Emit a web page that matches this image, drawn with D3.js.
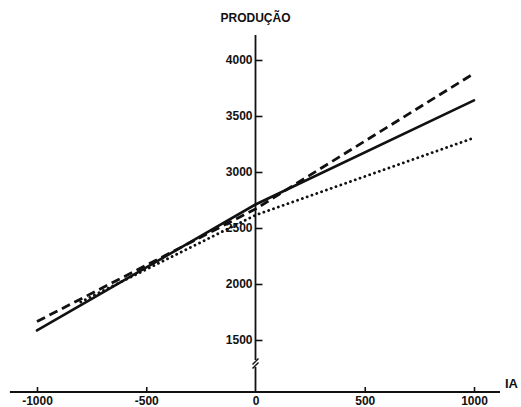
<!DOCTYPE html>
<html>
<head>
<meta charset="utf-8">
<script src="https://cdn.jsdelivr.net/npm/d3@7"></script>
<style>
  body { margin: 0; background: #fff; }
  svg { display: block; font-family: "Liberation Sans", Arial, sans-serif; }
  .tick text { font-size: 12px; font-weight: bold; fill: #111; }
  .tick line { stroke: #111; stroke-width: 1.6; }
</style>
</head>
<body>
<svg id="chart"></svg>
<script>
// data (IA -> PRODUCAO), each line breaks at IA = 0
var iaSolid = [-1000, 0, 1000];
var prodSolid = [1585, 2710, 3640];
var iaDashed = [-1000, 0, 1000];
var prodDashed = [1665, 2670, 3880];
var iaDotted = [-800, 0, 1000];
var prodDotted = [1840, 2615, 3305];

var xTicks = [-1000, -500, 0, 500, 1000];
var yTicks = [1500, 2000, 2500, 3000, 3500, 4000];

var width = 521, height = 407;
var svg = d3.select('#chart').attr('width', width).attr('height', height);

var xScale = d3.scaleLinear().domain([-1000, 1000]).range([37, 474]);
var yScale = d3.scaleLinear().domain([1500, 4000]).range([340, 60]);
var axisY = 392;

// x axis line, runs a bit past the ticks
svg.append('line')
  .attr('x1', xScale(-1124)).attr('x2', xScale(1119))
  .attr('y1', axisY).attr('y2', axisY)
  .attr('stroke', '#111').attr('stroke-width', 2);

var xAxis = d3.axisBottom(xScale).tickValues(xTicks).tickSize(-5)
  .tickFormat(function(d) { return d < 0 ? '-' + Math.abs(d) : d; });
var gx = svg.append('g').attr('transform', 'translate(0,' + axisY + ')').call(xAxis);
gx.select('.domain').remove();
gx.selectAll('.tick').filter(function(d) { return d === 0; }).select('line').remove();
gx.selectAll('text').attr('y', 4);

svg.append('text').attr('x', 505).attr('y', 388)
  .attr('font-size', 13).attr('font-weight', 'bold').attr('fill', '#111').text('IA');

// y axis at IA = 0, with a break near the bottom
var x0 = xScale(0);
var breakTop = 360, breakBottom = 367;
svg.append('line').attr('x1', x0).attr('x2', x0)
  .attr('y1', yScale(4223)).attr('y2', breakTop)
  .attr('stroke', '#111').attr('stroke-width', 1.8);
svg.append('line').attr('x1', x0).attr('x2', x0)
  .attr('y1', breakBottom).attr('y2', axisY)
  .attr('stroke', '#111').attr('stroke-width', 1.8);
[-2, 2].forEach(function(o) {
  svg.append('line')
    .attr('x1', x0 - 3).attr('y1', (breakTop + breakBottom) / 2 + 3 + o)
    .attr('x2', x0 + 3).attr('y2', (breakTop + breakBottom) / 2 - 3 + o)
    .attr('stroke', '#111').attr('stroke-width', 1.5);
});

var yAxis = d3.axisRight(yScale).tickValues(yTicks).tickSize(7).tickFormat(d3.format('d'));
var gy = svg.append('g').attr('transform', 'translate(' + x0 + ',0)').call(yAxis);
gy.select('.domain').remove();
gy.selectAll('text').attr('x', -3).attr('text-anchor', 'end');

svg.append('text').attr('x', x0).attr('y', 22).attr('text-anchor', 'middle')
  .attr('font-size', 12).attr('font-weight', 'bold').attr('fill', '#111').text('PRODUÇÃO');

var line = d3.line()
  .x(function(d) { return xScale(d[0]); })
  .y(function(d) { return yScale(d[1]); });

function drawSeries(xs, ys, dash, w, cap) {
  svg.append('path')
    .attr('d', line(d3.zip(xs, ys)))
    .attr('fill', 'none')
    .attr('stroke', '#111')
    .attr('stroke-width', w)
    .attr('stroke-linecap', cap)
    .attr('stroke-dasharray', dash);
}

drawSeries(iaDotted, prodDotted, '0.1 5', 2.8, 'round');
drawSeries(iaDashed, prodDashed, '9 5', 2.8, 'butt');
drawSeries(iaSolid, prodSolid, null, 2.6, 'round');
</script>
</body>
</html>
